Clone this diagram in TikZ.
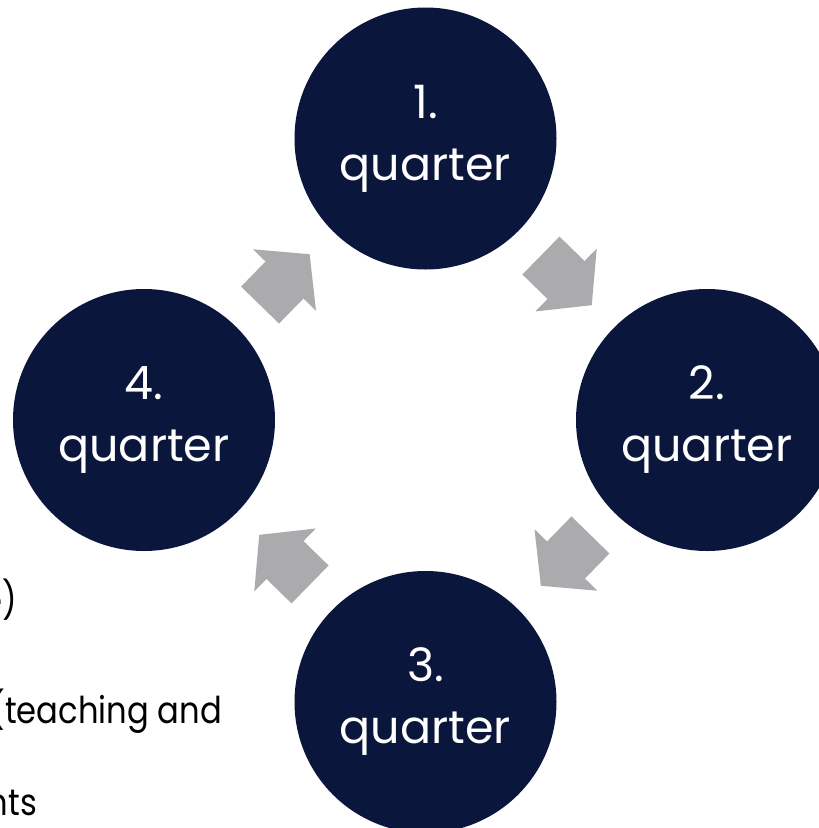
\documentclass[tikz,border=0pt]{standalone}
\usepackage{fontspec}
\setmainfont{Poppins}
\definecolor{navy}{HTML}{0B163D}
\definecolor{arrowgray}{HTML}{ABABAD}
\tikzset{
  quarternode/.style={circle, fill=navy, draw=none, minimum size=262pt, inner sep=0pt,
    text=white, align=center, font=\fontsize{46}{62}\selectfont},
  sidetext/.style={anchor=base east, inner sep=0pt, text=black, transform shape, xscale=0.87,
    font=\fontsize{37}{44}\selectfont},
  blockarrow/.pic={
    \fill[arrowgray] (-35,-26.5) -- (0,-26.5) -- (0,-44) -- (36,0) -- (0,44) -- (0,26.5) -- (-35,26.5) -- cycle;
  }
}
\begin{document}
\begin{tikzpicture}[x=1pt,y=1pt]
\useasboundingbox (0,0) rectangle (819,-828);
\fill[white] (0,0) rectangle (819,-828);
% partially visible text on the left
\node[sidetext] (t1) at (17,-613) {e)};
\node[sidetext] (t2) at (222,-723) {(teaching and};
\node[sidetext] (t3) at (37,-815) {nts};
% circles
\node[quarternode] (q1) at (425.5,-138.5) {1.\\quarter};
\node[quarternode] (q2) at (707,-420) {2.\\quarter};
\node[quarternode] (q3) at (425.5,-702) {3.\\quarter};
\node[quarternode] (q4) at (144,-420) {4.\\quarter};
% block arrows
\pic[rotate=45.7] (a41) at (284.5,-280) {blockarrow};
\pic[rotate=-44.3] (a12) at (566,-280) {blockarrow};
\pic[rotate=-134.3] (a23) at (566,-560) {blockarrow};
\pic[rotate=135.7] (a34) at (285,-560) {blockarrow};
\end{tikzpicture}
\end{document}
